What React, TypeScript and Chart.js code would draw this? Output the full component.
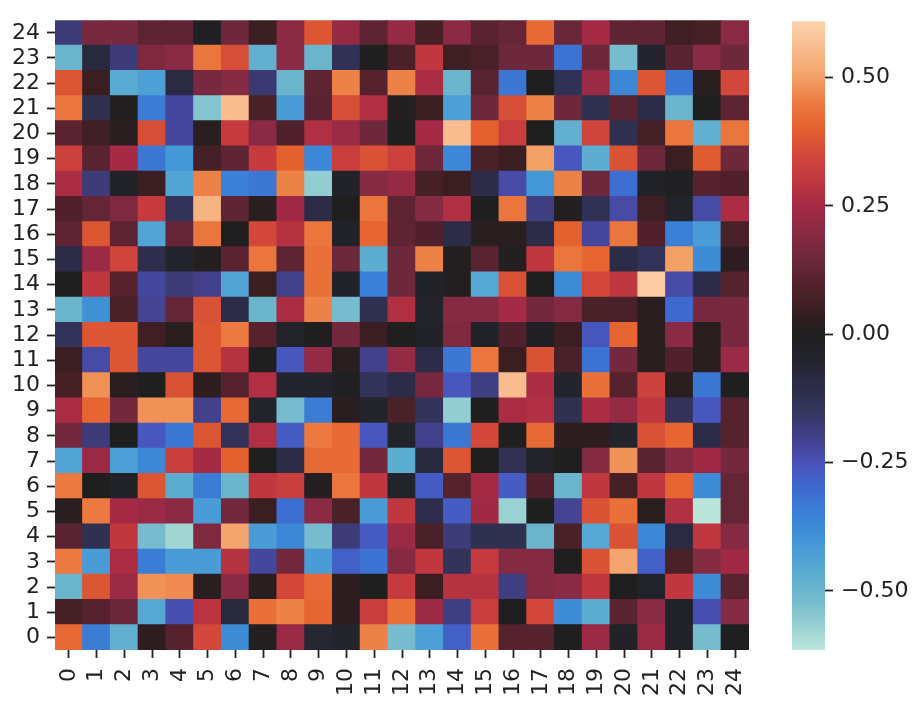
import { useEffect, useRef } from "react";
import { Chart, registerables } from "chart.js";

Chart.register(...registerables);

const colLabels = ["0","1","2","3","4","5","6","7","8","9","10","11","12","13","14","15","16","17","18","19","20","21","22","23","24"];
const rowLabels = ["0","1","2","3","4","5","6","7","8","9","10","11","12","13","14","15","16","17","18","19","20","21","22","23","24"];
const colorbarTicks = [-0.5, -0.25, 0, 0.25, 0.5];
const vMin = -0.615;
const vMax = 0.61;

const r24 = [-0.18,0.17,0.17,0.12,0.12,-0.02,0.15,0.05,0.2, 0.38,0.22,0.12,0.22,0.07,0.2,0.11,0.13, 0.42,0.14,0.25,0.12,0.12,0.06,0.07,0.2];
const r23 = [-0.5,-0.08,-0.18,0.18,0.2,0.44,0.36,-0.48,0.2, -0.5,-0.13,0.0,0.08,0.3,0.06,0.08,0.15, 0.15,-0.32,0.15,-0.52,-0.05,0.11,0.2,0.15];
const r22 = [0.38,0.05,-0.46,-0.43,-0.09,0.17,0.19,-0.17,-0.5, 0.12,0.46,0.1,0.46,0.26,-0.5,0.11,-0.33, 0.0,-0.13,0.23,-0.37,0.38,-0.33,0.02,0.35];
const r21 = [0.44,-0.12,0.01,-0.34,-0.22,-0.54,0.56,0.08,-0.42, 0.11,0.36,0.27,0.01,0.05,-0.43,0.15,0.36, 0.46,0.15,-0.12,0.11,-0.1,-0.5,0.0,0.12];
const r20 = [0.11,0.06,0.02,0.36,-0.22,0.02,0.31,0.2,0.09, 0.27,0.23,0.15,0.0,0.25,0.56,0.4,0.32, 0.0,-0.48,0.34,-0.12,0.07,0.44,-0.48,0.44];
const r19 = [0.33,0.11,0.25,-0.33,-0.41,0.07,0.12,0.31,0.4, -0.37,0.32,0.37,0.33,0.15,-0.37,0.08,0.05, 0.5,-0.26,-0.47,0.37,0.15,0.05,0.39,0.15];
const r18 = [0.26,-0.18,-0.03,0.05,-0.44,0.46,-0.35,-0.33,0.46, -0.56,-0.03,0.19,0.22,0.07,0.05,-0.1,-0.23, -0.41,0.46,0.15,-0.31,-0.03,-0.01,0.1,0.09];
const r17 = [0.09,0.13,0.18,0.31,-0.14,0.54,0.12,0.02,0.24, -0.1,0.0,0.44,0.12,0.19,0.27,0.0,0.44, -0.19,0.01,-0.13,-0.23,0.06,-0.04,-0.23,0.26];
const r16 = [0.12,0.38,0.12,-0.44,0.13,0.44,0.0,0.35,0.28, 0.44,-0.03,0.41,0.12,0.09,-0.1,0.02,0.02, -0.1,0.4,-0.22,0.44,0.09,-0.35,-0.42,0.08];
const r15 = [-0.1,0.23,0.34,-0.11,-0.05,0.01,0.11,0.44,0.12, 0.43,0.15,-0.47,0.15,0.46,0.01,0.11,0.01, 0.3,0.44,0.41,-0.1,-0.14,0.5,-0.38,0.03];
const r14 = [0.0,0.3,0.1,-0.22,-0.18,-0.2,-0.44,0.05,-0.2, 0.43,-0.03,-0.35,0.15,-0.03,0.01,-0.45,0.37, 0.0,-0.38,0.35,0.3,0.6,-0.23,-0.1,0.1];
const r13 = [-0.5,-0.39,0.08,-0.21,0.13,0.37,-0.1,-0.5,0.26, 0.46,-0.52,-0.12,0.27,-0.04,0.19,0.19,0.25, 0.16,0.19,0.08,0.08,0.02,-0.3,0.17,0.17];
const r12 = [-0.14,0.38,0.38,0.06,0.02,0.38,0.45,0.1,-0.04, 0.0,0.16,0.05,0.0,-0.03,0.18,-0.03,0.09, -0.02,0.05,-0.26,0.41,0.02,0.2,0.02,0.17];
const r11 = [0.05,-0.23,0.38,-0.22,-0.22,0.38,0.28,0.0,-0.26, 0.22,0.02,-0.2,0.22,-0.1,-0.33,0.44,0.05, 0.37,0.08,-0.32,0.16,0.02,0.09,0.02,0.23];
const r10 = [0.07,0.48,0.02,0.0,0.37,0.03,0.1,0.27,-0.05, -0.04,-0.01,-0.14,-0.1,0.17,-0.26,-0.19,0.56, 0.26,-0.05,0.43,0.1,0.33,0.02,-0.33,0.0];
const r9 = [0.26,0.41,0.16,0.48,0.48,-0.2,0.42,-0.04,-0.52, -0.34,0.02,-0.04,0.08,-0.14,-0.56,0.0,0.26, 0.27,-0.12,0.26,0.22,0.3,-0.14,-0.26,0.1];
const r8 = [0.16,-0.18,0.0,-0.26,-0.33,0.38,-0.14,0.27,-0.27, 0.45,0.42,-0.26,-0.04,-0.2,-0.33,0.35,0.0, 0.42,0.03,0.03,-0.05,0.37,0.41,-0.1,0.1];
const r7 = [-0.44,0.23,-0.43,-0.37,0.32,0.25,0.4,0.0,-0.1, 0.42,0.42,0.16,-0.47,-0.08,0.38,0.0,-0.13, -0.04,0.0,0.19,0.48,0.11,0.19,0.24,0.16];
const r6 = [0.45,0.0,-0.03,0.38,-0.47,-0.34,-0.5,0.3,0.32, 0.01,0.44,0.3,-0.04,-0.27,0.1,0.25,-0.27, 0.09,-0.5,0.3,0.07,0.3,0.41,-0.38,0.13];
const r5 = [0.02,0.45,0.25,0.23,0.2,-0.42,0.16,0.05,-0.31, 0.2,0.08,-0.42,0.3,-0.11,-0.27,0.24,-0.57, 0.0,-0.21,0.37,0.43,0.02,0.27,-0.61,0.13];
const r4 = [0.11,-0.12,0.3,-0.52,-0.58,0.18,0.51,-0.42,-0.37, -0.52,-0.18,-0.27,0.23,0.08,-0.18,-0.12,-0.12, -0.5,0.08,-0.45,0.37,-0.37,-0.09,0.3,0.19];
const r3 = [0.45,-0.42,0.26,-0.34,-0.42,-0.42,0.28,-0.22,0.16, -0.42,-0.28,-0.32,0.19,0.3,-0.14,0.31,0.19, 0.19,0.0,0.37,0.51,-0.28,0.08,0.19,0.24];
const r2 = [-0.5,0.38,0.23,0.48,0.47,0.02,0.2,0.02,0.35, 0.42,0.03,0.0,0.31,0.05,0.28,0.28,-0.19, 0.19,0.2,0.3,0.0,-0.04,0.3,-0.38,0.11];
const r1 = [0.07,0.1,0.14,-0.45,-0.24,0.29,-0.08,0.43,0.46, 0.41,0.03,0.32,0.43,0.23,-0.19,0.32,0.0, 0.35,-0.38,-0.47,0.11,0.2,-0.03,-0.24,0.19];
const r0 = [0.42,-0.34,-0.48,0.03,0.1,0.35,-0.38,0.01,0.23, -0.06,-0.04,0.46,-0.52,-0.43,-0.28,0.43,0.1, 0.1,0.0,0.23,-0.03,0.23,-0.03,-0.52,0.0];

const rows = [r0, r1, r2, r3, r4, r5, r6, r7, r8, r9, r10, r11, r12, r13, r14, r15, r16, r17, r18, r19, r20, r21, r22, r23, r24];

// icefire-like colour stops (value -> colour)
const STOPS: [number, string][] = [
  [-0.615, "#bde7db"],
  [-0.55, "#8ac8d0"],
  [-0.5, "#6ab4cc"],
  [-0.45, "#55a8d4"],
  [-0.4, "#4194d6"],
  [-0.35, "#3a80d6"],
  [-0.3, "#3e6ad0"],
  [-0.25, "#4a52b8"],
  [-0.2, "#42408a"],
  [-0.15, "#35355e"],
  [-0.1, "#2c2c48"],
  [-0.05, "#24242f"],
  [0.0, "#1f1f1f"],
  [0.05, "#3a1e22"],
  [0.1, "#55222e"],
  [0.15, "#6e283c"],
  [0.2, "#8a2a44"],
  [0.25, "#a52a45"],
  [0.3, "#c0373f"],
  [0.35, "#d3483a"],
  [0.4, "#e4602f"],
  [0.45, "#ec7a40"],
  [0.5, "#f2a066"],
  [0.55, "#f7b888"],
  [0.615, "#fdd3ad"],
];

function hexRgb(h: string): number[] {
  return [parseInt(h.slice(1, 3), 16), parseInt(h.slice(3, 5), 16), parseInt(h.slice(5, 7), 16)];
}

function colorFor(v: number): string {
  if (v <= STOPS[0][0]) return STOPS[0][1];
  for (let i = 1; i < STOPS.length; i++) {
    if (v <= STOPS[i][0]) {
      const [v0, c0] = STOPS[i - 1];
      const [v1, c1] = STOPS[i];
      const t = (v - v0) / (v1 - v0);
      const a = hexRgb(c0);
      const b = hexRgb(c1);
      const c = a.map((x, k) => Math.round(x + (b[k] - x) * t));
      return `rgb(${c[0]},${c[1]},${c[2]})`;
    }
  }
  return STOPS[STOPS.length - 1][1];
}

const W = 917;
const H = 702;
const FONT = { family: "'DejaVu Sans', sans-serif", size: 22 };
const TEXT = "#222222";
const TICK_LEN = 8;
const TICK_W = 1.8;

export default function App() {
  const heatRef = useRef<HTMLCanvasElement>(null);
  const barRef = useRef<HTMLCanvasElement>(null);

  useEffect(() => {
    const heat = new Chart(heatRef.current!, {
      type: "bar",
      data: {
        labels: colLabels,
        datasets: rows.map((row, r) => ({
          label: rowLabels[r],
          data: row.map(() => 1),
          backgroundColor: row.map(colorFor),
          borderWidth: 0,
          barPercentage: 1,
          categoryPercentage: 1,
          inflateAmount: 0.6,
        })),
      },
      options: {
        responsive: false,
        animation: false,
        layout: { padding: { top: 5, right: W - 749, left: 0, bottom: 0 } },
        plugins: { legend: { display: false }, tooltip: { enabled: false } },
        scales: {
          x: {
            stacked: true,
            grid: { offset: false, drawOnChartArea: false, tickLength: TICK_LEN, tickWidth: TICK_W, tickColor: TEXT },
            border: { display: false },
            ticks: { minRotation: 90, maxRotation: 90, autoSkip: false, padding: 10, font: FONT, color: TEXT },
            afterFit: (s: any) => { s.height = 52; },
          },
          y: {
            type: "linear",
            stacked: true,
            min: 0,
            max: 25,
            afterBuildTicks: (s: any) => { s.ticks = rowLabels.map((_, i) => ({ value: i + 0.5 })); },
            grid: { drawOnChartArea: false, tickLength: TICK_LEN, tickWidth: TICK_W, tickColor: TEXT },
            border: { display: false },
            ticks: {
              autoSkip: false,
              padding: 7,
              font: FONT,
              color: TEXT,
              callback: (v: any) => rowLabels[Math.floor(Number(v))],
            },
            afterFit: (s: any) => { s.width = 55; },
          },
        },
      } as any,
    });

    const bar = new Chart(barRef.current!, {
      type: "bar",
      data: {
        labels: [""],
        datasets: [
          {
            data: [[vMin, vMax]] as any,
            backgroundColor: (ctx: any) => {
              const chart = ctx.chart;
              const ys = chart.scales.y;
              if (!chart.chartArea || !ys) return "#1f1f1f";
              const y0 = ys.getPixelForValue(vMin);
              const y1 = ys.getPixelForValue(vMax);
              const g = chart.ctx.createLinearGradient(0, y0, 0, y1);
              STOPS.forEach(([v, c]) => {
                const t = Math.min(1, Math.max(0, (v - vMin) / (vMax - vMin)));
                g.addColorStop(t, c);
              });
              return g;
            },
            borderWidth: 0,
            barPercentage: 1,
            categoryPercentage: 1,
          },
        ],
      },
      options: {
        responsive: false,
        animation: false,
        layout: { padding: { left: 792, top: 5, bottom: 52, right: 0 } },
        plugins: { legend: { display: false }, tooltip: { enabled: false } },
        scales: {
          x: { display: false },
          y: {
            position: "right",
            min: vMin,
            max: vMax,
            afterBuildTicks: (s: any) => { s.ticks = colorbarTicks.map((v) => ({ value: v })); },
            grid: { drawOnChartArea: false, tickLength: TICK_LEN, tickWidth: TICK_W, tickColor: TEXT },
            border: { display: false },
            ticks: {
              autoSkip: false,
              padding: 8,
              font: FONT,
              color: TEXT,
              callback: (v: any) => (Number(v) < 0 ? "\u2212" : "") + Math.abs(Number(v)).toFixed(2),
            },
            afterFit: (s: any) => { s.width = W - 825; },
          },
        },
      } as any,
    });

    return () => {
      heat.destroy();
      bar.destroy();
    };
  }, []);

  return (
    <div style={{ position: "absolute", left: 0, top: 0, width: W, height: H, background: "#fff" }}>
      <canvas ref={heatRef} width={W} height={H} style={{ position: "absolute", left: 0, top: 0 }} />
      <canvas ref={barRef} width={W} height={H} style={{ position: "absolute", left: 0, top: 0 }} />
    </div>
  );
}
